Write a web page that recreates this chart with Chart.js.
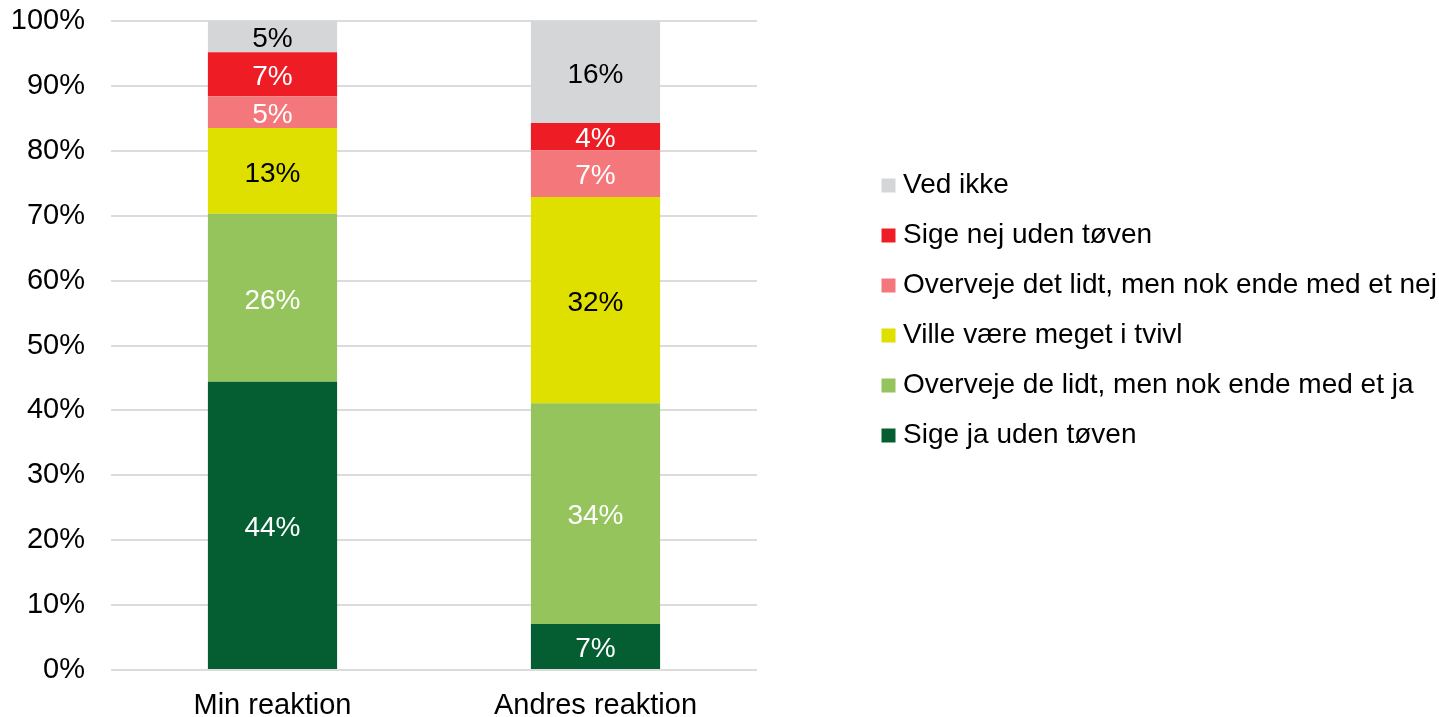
<!DOCTYPE html>
<html><head><meta charset="utf-8">
<script src="https://cdn.jsdelivr.net/npm/chart.js@4/dist/chart.umd.min.js"></script>
<style>html,body{margin:0;padding:0;background:#fff;overflow:hidden}#c{display:block}</style>
</head><body>
<canvas id="c" width="1439" height="717"></canvas>
<script>
const categories = ['Min reaktion', 'Andres reaktion'];
const seriesNames = [
  'Sige ja uden tøven',
  'Overveje de lidt, men nok ende med et ja',
  'Ville være meget i tvivl',
  'Overveje det lidt, men nok ende med et nej',
  'Sige nej uden tøven',
  'Ved ikke'
];
const sigeJa = [44.4, 7.1];
const overvejeJa = [25.9, 34.0];
const villeTvivl = [13.2, 31.8];
const overvejeNej = [4.9, 7.2];
const sigeNej = [6.8, 4.2];
const vedIkke = [4.8, 15.7];
const yTickLabels = ['0%','10%','20%','30%','40%','50%','60%','70%','80%','90%','100%'];

const seriesValues = [sigeJa, overvejeJa, villeTvivl, overvejeNej, sigeNej, vedIkke];
const seriesColors = ['#045E32', '#95C35C', '#DFDF00', '#F4777C', '#EE1C25', '#D5D6D8'];
const labelColors = ['#FFFFFF', '#FFFFFF', '#000000', '#FFFFFF', '#FFFFFF', '#000000'];

const FONT = '"Liberation Sans", Arial, sans-serif';
const FS = 28;
const AXIS_FS = 29;

const barLabels = {
  id: 'barLabels',
  afterDatasetsDraw(chart) {
    const ctx = chart.ctx;
    ctx.save();
    ctx.font = FS + 'px ' + FONT;
    ctx.textAlign = 'center';
    ctx.textBaseline = 'middle';
    chart.data.datasets.forEach((ds, di) => {
      const meta = chart.getDatasetMeta(di);
      meta.data.forEach((bar, i) => {
        const p = bar.getProps(['x', 'y', 'base'], true);
        ctx.fillStyle = labelColors[di];
        ctx.fillText(Math.round(ds.data[i]) + '%', p.x, (p.y + p.base) / 2 + 3);
      });
    });
    ctx.restore();
  }
};

new Chart(document.getElementById('c'), {
  type: 'bar',
  data: {
    labels: categories,
    datasets: seriesNames.map((name, i) => ({
      label: name,
      data: seriesValues[i],
      backgroundColor: seriesColors[i],
      borderWidth: 0,
      barPercentage: 0.4,
      categoryPercentage: 1.0
    }))
  },
  options: {
    responsive: false,
    devicePixelRatio: 1,
    animation: false,
    layout: { padding: { top: 0, left: 0, right: 0, bottom: 0 } },
    scales: {
      x: {
        stacked: true,
        grid: { display: false, drawTicks: false },
        border: { display: false },
        ticks: { color: '#000', font: { family: FONT, size: AXIS_FS }, padding: 19 },
        afterFit: s => { s.height = 47; }
      },
      y: {
        stacked: true,
        min: 0, max: 100,
        grid: { color: '#DCDCDC', lineWidth: 2, drawTicks: false },
        border: { display: false },
        ticks: {
          stepSize: 10,
          color: '#000',
          font: { family: FONT, size: AXIS_FS },
          padding: 26,
          callback: (v, i) => yTickLabels[i]
        },
        afterFit: s => { s.width = 111; s.paddingTop = 21; s.paddingBottom = 0; }
      },
      y2: {
        position: 'right',
        display: true,
        grid: { display: false, drawTicks: false },
        border: { display: false },
        ticks: { display: false },
        afterFit: s => { s.width = Math.max(0, 1439 - 757 - (s.chart.legend ? s.chart.legend.width : 0)); s.paddingTop = 0; s.paddingBottom = 0; }
      }
    },
    plugins: {
      tooltip: { enabled: false },
      legend: {
        position: 'right',
        align: 'start',
        reverse: true,
        maxWidth: 573,
        title: { display: true, text: '', font: { size: 10 }, padding: { top: 137.5, bottom: 0 } },
        labels: {
          color: '#000',
          font: { family: FONT, size: FS },
          boxWidth: 1,
          boxHeight: 1,
          padding: 22,
          generateLabels(chart) {
            const items = Chart.defaults.plugins.legend.labels.generateLabels(chart);
            items.forEach(it => { it.lineWidth = 13; it.strokeStyle = it.fillStyle; it.lineJoin = 'miter'; });
            return items;
          }
        }
      }
    }
  },
  plugins: [barLabels]
});
</script>
</body></html>
